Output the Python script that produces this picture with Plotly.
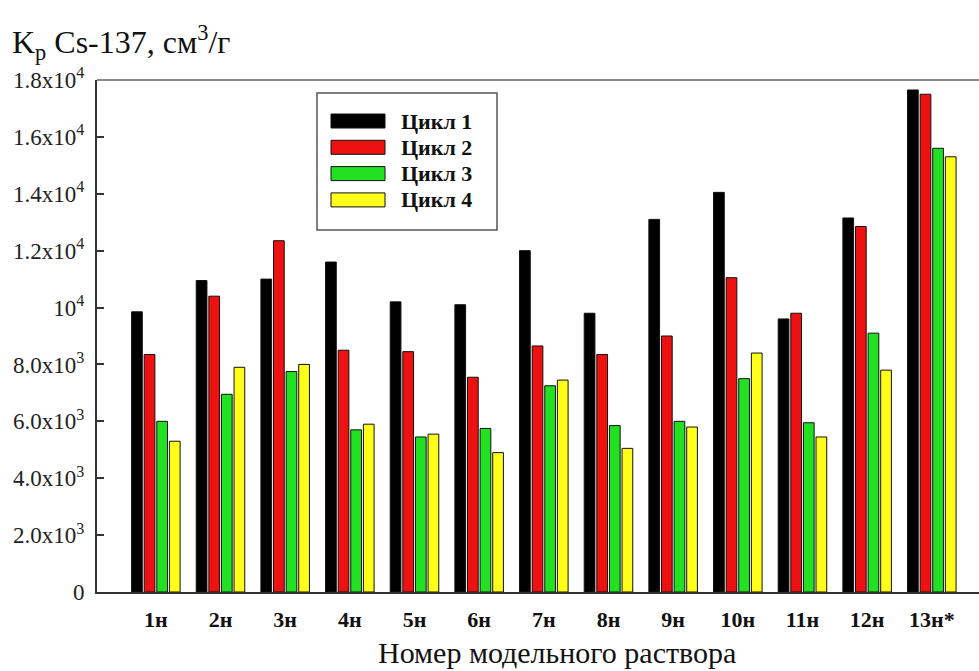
import plotly.graph_objects as go

# Model solution labels and Cs-137 distribution coefficients (cm3/g) per cycle
solutions = ["1н", "2н", "3н", "4н", "5н", "6н", "7н", "8н", "9н", "10н", "11н", "12н", "13н*"]
cycle_names = ["Цикл 1", "Цикл 2", "Цикл 3", "Цикл 4"]
cycle1 = [9850, 10950, 11000, 11600, 10200, 10100, 12000, 9800, 13100, 14050, 9600, 13150, 17650]
cycle2 = [8350, 10400, 12350, 8500, 8450, 7550, 8650, 8350, 9000, 11050, 9800, 12850, 17500]
cycle3 = [6000, 6950, 7750, 5700, 5450, 5750, 7250, 5850, 6000, 7500, 5950, 9100, 15600]
cycle4 = [5300, 7900, 8000, 5900, 5550, 4900, 7450, 5050, 5800, 8400, 5450, 7800, 15300]
cycles = [cycle1, cycle2, cycle3, cycle4]
colors = ["#000000", "#ee1111", "#22e022", "#ffff1a"]

y_ticks = [0, 2000, 4000, 6000, 8000, 10000, 12000, 14000, 16000, 18000]
y_ticktext = ["0", "2.0x10<sup>3</sup>", "4.0x10<sup>3</sup>", "6.0x10<sup>3</sup>",
              "8.0x10<sup>3</sup>", "10<sup>4</sup>", "1.2x10<sup>4</sup>",
              "1.4x10<sup>4</sup>", "1.6x10<sup>4</sup>", "1.8x10<sup>4</sup>"]

SERIF = "Liberation Serif, 'Times New Roman', DejaVu Serif, serif"

fig = go.Figure()
for name, vals, col in zip(cycle_names, cycles, colors):
    fig.add_trace(go.Bar(
        x=solutions, y=vals, name=name,
        marker=dict(color=col, line=dict(color="#111111", width=1)),
        showlegend=False,
    ))

# Plot area geometry in pixels (used to place the hand-drawn legend)
W, H = 979, 671
L, R, T, B = 97, 0, 80, 79
pw, ph = W - L - R, H - T - B


def px(x):
    return (x - L) / pw


def py(y):
    return (H - B - y) / ph


shapes = []
annotations = []

# top frame line
shapes.append(dict(type="line", xref="paper", yref="paper", x0=0, x1=1, y0=1, y1=1,
                   line=dict(color="#8a8a8a", width=2)))

# legend box
shapes.append(dict(type="rect", xref="paper", yref="paper",
                   x0=px(317), x1=px(497), y0=py(93), y1=py(230),
                   line=dict(color="#555555", width=1.5), fillcolor="white"))
for i, (name, col) in enumerate(zip(cycle_names, colors)):
    yc = 121 + i * 26.3
    shapes.append(dict(type="rect", xref="paper", yref="paper",
                       x0=px(331), x1=px(385), y0=py(yc - 7), y1=py(yc + 7),
                       line=dict(color="#111111", width=1), fillcolor=col))
    annotations.append(dict(xref="paper", yref="paper", x=px(399), y=py(yc),
                            text="<b>" + name + "</b>", showarrow=False,
                            xanchor="left", yanchor="middle",
                            font=dict(family=SERIF, size=22, color="#111111")))

# y-axis caption
annotations.append(dict(xref="paper", yref="paper", x=px(10), y=py(42),
                        text="K<sub>p</sub> Cs-137, см<sup>3</sup>/г", showarrow=False,
                        xanchor="left", yanchor="middle",
                        font=dict(family=SERIF, size=32, color="#111111")))
# x-axis caption
annotations.append(dict(xref="paper", yref="paper", x=px(557), y=py(652),
                        text="Номер модельного раствора", showarrow=False,
                        xanchor="center", yanchor="middle",
                        font=dict(family=SERIF, size=30, color="#111111")))

fig.update_layout(
    width=W, height=H,
    margin=dict(l=L, r=R, t=T, b=B, pad=0),
    paper_bgcolor="white", plot_bgcolor="white",
    barmode="group", bargap=0.22, bargroupgap=0.15,
    shapes=shapes, annotations=annotations,
    showlegend=False,
    xaxis=dict(
        type="category", range=[-0.91, 12.73],
        showline=True, linecolor="#333333", linewidth=2,
        showgrid=False, ticks="",
        tickmode="array", tickvals=solutions,
        ticktext=["<b>" + s + "</b>" for s in solutions],
        tickfont=dict(family=SERIF, size=22, color="#111111"),
        ticklabelstandoff=7,
    ),
    yaxis=dict(
        range=[0, 18000],
        showline=True, linecolor="#333333", linewidth=2,
        showgrid=False, zeroline=False,
        ticks="inside", ticklen=7, tickwidth=1.5, tickcolor="#333333",
        tickmode="array", tickvals=y_ticks, ticktext=y_ticktext,
        tickfont=dict(family=SERIF, size=23, color="#222222"),
        ticklabelstandoff=6,
    ),
)

fig.write_html("out.html")
